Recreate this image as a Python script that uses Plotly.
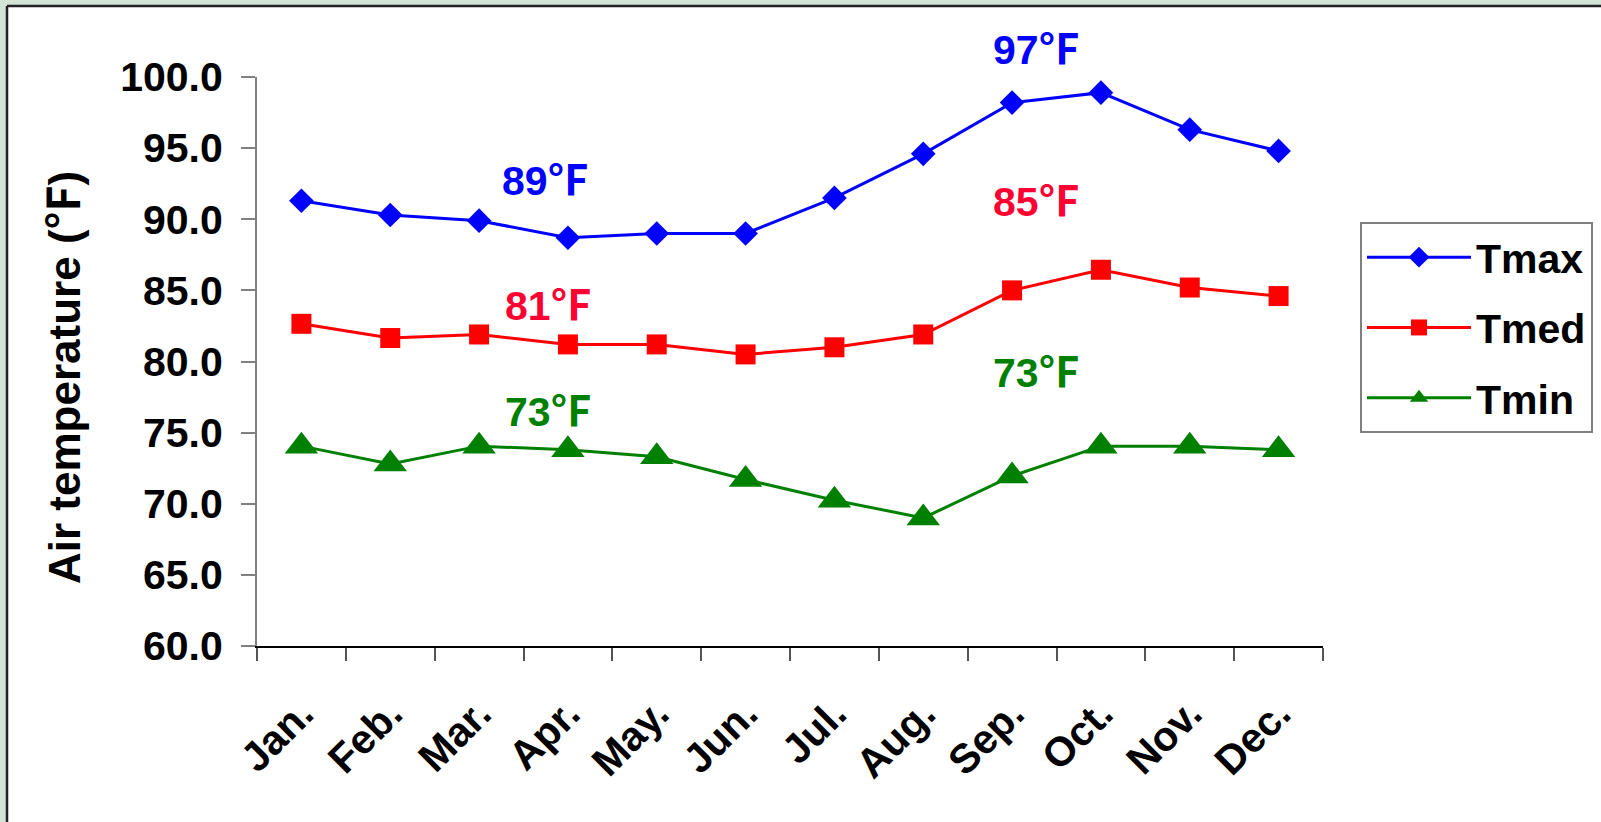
import plotly.graph_objects as go

months = ["Jan.", "Feb.", "Mar.", "Apr.", "May.", "Jun.",
          "Jul.", "Aug.", "Sep.", "Oct.", "Nov.", "Dec."]
tmax = [91.3, 90.3, 89.9, 88.7, 89.0, 89.0, 91.5, 94.6, 98.2, 98.9, 96.3, 94.8]
tmed = [82.65, 81.65, 81.9, 81.2, 81.2, 80.5, 81.0, 81.9, 85.0, 86.45, 85.2, 84.6]
tmin = [74.05, 72.8, 74.05, 73.8, 73.3, 71.7, 70.25, 69.0, 71.95, 74.05, 74.05, 73.8]

# seasonal mean labels: (value, x position in category units, y in °F, colour)
season_labels = [
    ("89", 2.75, 92.95, "#0000FF"),
    ("81", 2.78, 84.2, "#FF0033"),
    ("73", 2.78, 76.7, "#008000"),
    ("97", 8.28, 102.2, "#0000FF"),
    ("85", 8.28, 91.5, "#FF0033"),
    ("73", 8.28, 79.5, "#008000"),
]

Y_MIN, Y_MAX = 60, 100

FONT = "Liberation Sans, Arial, sans-serif"
DEG_F = '<span style="font-family:Noto Sans CJK SC">℉</span>'

fig = go.Figure()
series = [
    ("Tmax", tmax, "#0000FF", "diamond", 19),
    ("Tmed", tmed, "#FF0000", "square", 20),
    ("Tmin", tmin, "#008000", "triangle-up", 29),
]
for name, vals, color, sym, size in series:
    fig.add_trace(go.Scatter(
        x=months, y=vals, name=name, legendgroup=name,
        mode="lines+markers",
        line=dict(color=color, width=3),
        marker=dict(symbol=sym, size=size, color=color),
    ))

W, H = 1601, 822
L, R, T, B = 257, 1323, 77, 646
pw, ph = R - L, B - T

def px(xp):
    return (xp - L) / pw

def py(yp):
    return (B - yp) / ph

# white panel over the tinted page, framed on its left and top edges
fig.add_shape(type="rect", xref="paper", yref="paper",
              x0=px(7), x1=px(W + 40), y0=py(H + 40), y1=py(6),
              fillcolor="white", line=dict(width=0), layer="below")
fig.add_shape(type="line", xref="paper", yref="paper",
              x0=px(7), x1=px(7), y0=py(H + 40), y1=py(6),
              line=dict(color="#222222", width=2.5), layer="below")
fig.add_shape(type="line", xref="paper", yref="paper",
              x0=px(7), x1=px(W + 40), y0=py(6), y1=py(6),
              line=dict(color="#222222", width=2.5), layer="below")

for val, xv, yv, color in season_labels:
    fig.add_annotation(x=xv, y=(yv - Y_MIN) / (Y_MAX - Y_MIN),
                       xref="x", yref="paper",
                       text=f"<b>{val}{DEG_F}</b>",
                       showarrow=False, xanchor="center", yanchor="middle",
                       font=dict(family=FONT, size=41, color=color))

fig.add_annotation(x=px(61), y=py(378), xref="paper", yref="paper",
                   xanchor="center", yanchor="middle",
                   text=f"<b>Air temperature ({DEG_F})</b>", textangle=-90,
                   showarrow=False,
                   font=dict(family=FONT, size=44, color="black"))

fig.update_layout(
    width=W, height=H,
    margin=dict(l=L, r=W - R, t=T, b=H - B, autoexpand=False),
    paper_bgcolor="#d4e4d6",
    plot_bgcolor="white",
    font=dict(family=FONT, color="black"),
    showlegend=True,
    legend=dict(
        x=px(1360), y=py(222), xanchor="left", yanchor="top",
        bgcolor="white", bordercolor="#808080", borderwidth=2,
        font=dict(family=FONT, size=41, color="black", weight="bold"),
        tracegroupgap=14,
        itemwidth=104,
    ),
    xaxis=dict(
        type="category", tickson="boundaries",
        ticks="outside", ticklen=13, tickcolor="#555555", tickwidth=2,
        showline=True, linecolor="black", linewidth=2,
        showgrid=False, zeroline=False,
        tickangle=-45,
        ticklabelstandoff=25,
        tickfont=dict(family=FONT, size=41, color="black", weight="bold"),
        range=[-0.5, 11.5],
    ),
    yaxis=dict(
        range=[Y_MIN, Y_MAX], dtick=5, tickformat=".1f",
        ticks="outside", ticklen=14, tickcolor="#808080", tickwidth=2,
        showline=True, linecolor="#808080", linewidth=2,
        showgrid=False, zeroline=False,
        ticklabelstandoff=10,
        tickfont=dict(family=FONT, size=41, color="black", weight="bold"),
    ),
)

fig.write_html("out.html")
